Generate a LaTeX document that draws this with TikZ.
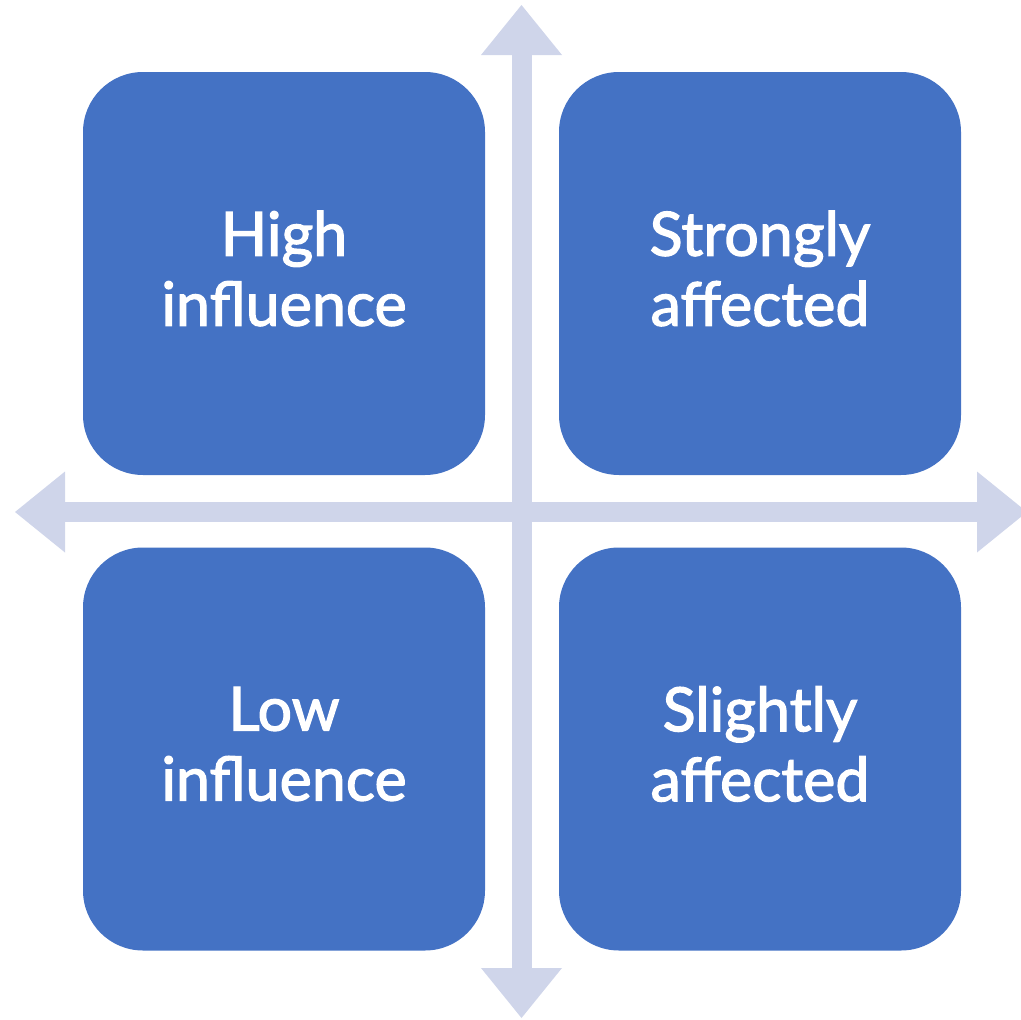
\documentclass[tikz,border=0pt]{standalone}
\usepackage{fontspec}
\setmainfont{Lato}[FakeBold=2]
\usetikzlibrary{arrows.meta}
\definecolor{boxblue}{HTML}{4472C4}
\definecolor{axiscol}{HTML}{CFD5EA}
\begin{document}
\begin{tikzpicture}[x=1pt,y=-1pt,
  quad/.style={fill=boxblue, draw=none, rounded corners=60pt, minimum width=402pt, minimum height=403pt, inner sep=0pt},
  lbl/.style={text=white, align=center, font=\fontsize{61}{70}\selectfont, inner sep=0pt},
  axis/.style={draw=axiscol, line width=20pt, {Triangle[width=81pt,length=50pt,line width=0pt]}-{Triangle[width=81pt,length=50pt,line width=0pt]}}]
\useasboundingbox (0,0) rectangle (1021,1020);
\coordinate (top) at (521.5,5);
\coordinate (bottom) at (521.5,1018);
\coordinate (left) at (15,512);
\coordinate (right) at (1027,512);
\draw[axis] (top) -- (bottom);
\draw[axis] (left) -- (right);
\node[quad] (hi) at (284,273.5) {};
\node[quad] (sa) at (760,273.5) {};
\node[quad] (lo) at (284,749) {};
\node[quad] (sl) at (760,749) {};
\node[lbl] (hit) at ([yshift=5pt]hi.center) {High\\influence};
\node[lbl] (sat) at ([yshift=5pt]sa.center) {Strongly\\affected};
\node[lbl] (lot) at ([yshift=5pt]lo.center) {Low\\influence};
\node[lbl] (slt) at ([yshift=5pt]sl.center) {Slightly\\affected};
\end{tikzpicture}
\end{document}
